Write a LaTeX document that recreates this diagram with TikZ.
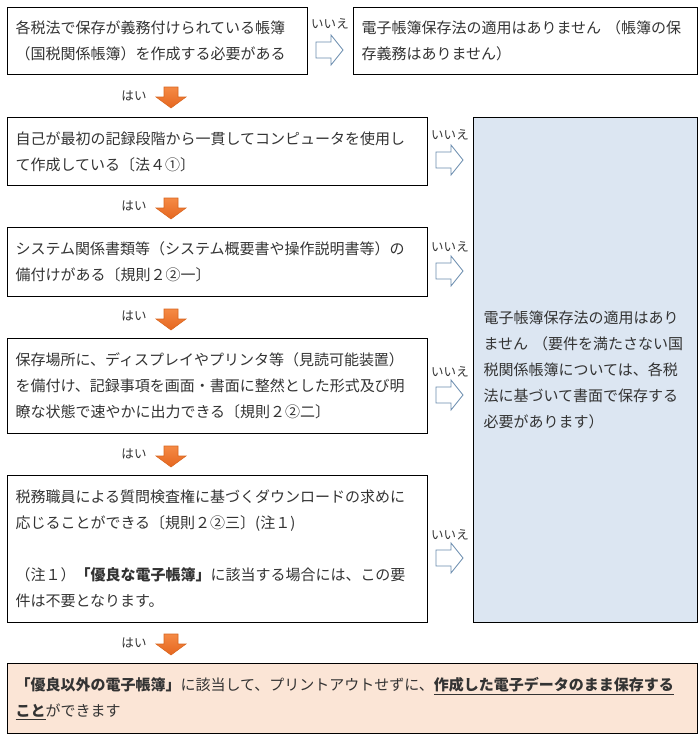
\documentclass[tikz,border=0pt]{standalone}
\usepackage{fontspec}
\setmainfont{Noto Sans CJK JP}
\definecolor{txt}{HTML}{333333}
\definecolor{bluefill}{HTML}{DCE6F2}
\definecolor{peach}{HTML}{FBE5D6}
\definecolor{oTop}{HTML}{F58A45}
\definecolor{oBot}{HTML}{E5661F}
\definecolor{oEdge}{HTML}{D8651E}
\definecolor{steel}{HTML}{6A8CAE}
\newcommand{\mainsz}{\fontsize{11.25pt}{19.5pt}\selectfont}
\newcommand{\labsz}{\fontsize{9.4pt}{10pt}\selectfont}
\begin{document}
\begin{tikzpicture}[x=0.75pt,y=-0.75pt,
  box/.style={draw=black, line width=0.75pt, anchor=north west, align=left,
    inner xsep=6pt, inner ysep=0pt, font=\mainsz, text=txt},
  lab/.style={font=\labsz, text=txt, inner sep=0pt},
  downarr/.pic={\path[draw=oEdge, line width=0.4pt, top color=oTop, bottom color=oBot]
    (-7,0) -- (7,0) -- (7,10) -- (15,10) -- (0,21) -- (-15,10) -- (-7,10) -- cycle;},
  rightarr/.pic={\path[draw=steel, line width=0.6pt, fill=white]
    (0,-8) -- (15,-8) -- (15,-15) -- (27,0) -- (15,15) -- (15,8) -- (0,8) -- cycle;}
]
\useasboundingbox (0,0) rectangle (699,736);

% boxes
\node[box, text width=213pt, minimum height=50.25pt] (A) at (7,7)
  {各税法で保存が義務付けられている帳簿\\（国税関係帳簿）を作成する必要がある};
\node[box, text width=246pt, minimum height=50.25pt] (B) at (353,7)
  {電子帳簿保存法の適用はありません （帳簿の保\\存義務はありません）};
\node[box, text width=303pt, minimum height=51pt] (C) at (7,117)
  {自己が最初の記録段階から一貫してコンピュータを使用し\\て作成している〔法４①〕};
\node[box, text width=303pt, minimum height=51.75pt] (D) at (7,227)
  {システム関係書類等（システム概要書や操作説明書等）の\\備付けがある〔規則２②一〕};
\node[box, text width=303pt, minimum height=71.25pt] (E) at (7,338)
  {保存場所に、ディスプレイやプリンタ等（見読可能装置）\\を備付け、記録事項を画面・書面に整然とした形式及び明\\瞭な状態で速やかに出力できる〔規則２②二〕};
\node[box, text width=303pt, minimum height=110.25pt] (F) at (7,475)
  {税務職員による質問検査権に基づくダウンロードの求めに\\応じることができる〔規則２②三〕(注１)\\\mbox{}\\（注１）{\bfseries「優良な電子帳簿」}に該当する場合には、この要\\件は不要となります。};
\node[box, fill=bluefill, inner xsep=7.5pt, text width=153pt, minimum height=378.75pt] (N) at (473,117)
  {電子帳簿保存法の適用はあり\\ません （要件を満たさない国\\税関係帳簿については、各税\\法に基づいて書面で保存する\\必要があります）};
\node[box, fill=peach, text width=505.5pt, minimum height=52.5pt] (G) at (7,663)
  {{\bfseries「優良以外の電子帳簿」}に該当して、プリントアウトせずに、\underline{\bfseries 作成した電子データのまま保存する}\\\underline{\bfseries こと}ができます};

% yes arrows
\pic (y1) at (171,87) {downarr};
\pic (y2) at (171,198) {downarr};
\pic (y3) at (171,309) {downarr};
\pic (y4) at (171,446) {downarr};
\pic (y5) at (171,634) {downarr};
\node[lab] (h1) at (134,95.5) {はい};
\node[lab] (h2) at (134,206) {はい};
\node[lab] (h3) at (134,316) {はい};
\node[lab] (h4) at (134,454) {はい};
\node[lab] (h5) at (134,642.5) {はい};

% no arrows
\pic (n1) at (316,50) {rightarr};
\pic (n2) at (436,160) {rightarr};
\pic (n3) at (436,271) {rightarr};
\pic (n4) at (436,395) {rightarr};
\pic (n5) at (436,558) {rightarr};
\node[lab] (i1) at (330,24) {いいえ};
\node[lab] (i2) at (450,135) {いいえ};
\node[lab] (i3) at (450,247) {いいえ};
\node[lab] (i4) at (450,372) {いいえ};
\node[lab] (i5) at (450,535) {いいえ};
\end{tikzpicture}
\end{document}
